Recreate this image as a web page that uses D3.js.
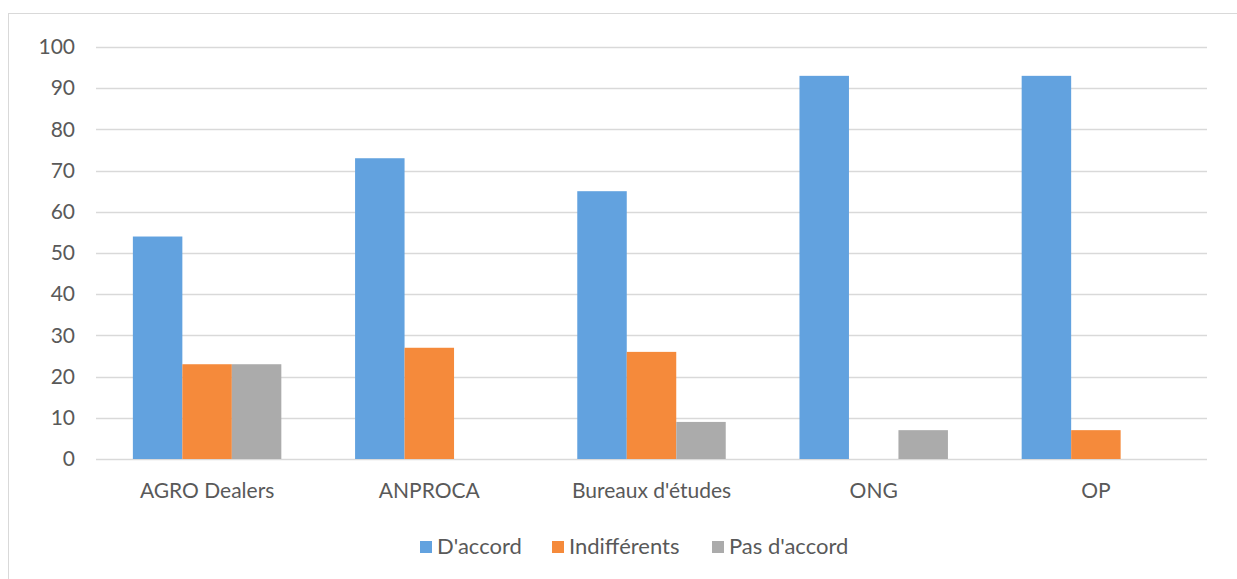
<!DOCTYPE html>
<html>
<head>
<meta charset="utf-8">
<script src="https://cdn.jsdelivr.net/npm/d3@7"></script>
<style>
  html, body { margin: 0; padding: 0; background: #fff; }
  svg text { font-family: Lato, "Open Sans", sans-serif; fill: #595959; }
</style>
</head>
<body>
<svg id="chart" width="1237" height="579"></svg>
<script>
// Survey answers by actor group (percent)
const categories = ["AGRO Dealers", "ANPROCA", "Bureaux d'études", "ONG", "OP"];
const seriesNames = ["D'accord", "Indifférents", "Pas d'accord"];
const dAccord      = [54, 73, 65, 93, 93];
const indifferents = [23, 27, 26, 0, 7];
const pasDAccord   = [23, 0, 9, 7, 0];
const yTicks = [0, 10, 20, 30, 40, 50, 60, 70, 80, 90, 100];
const colors = ["#62A2DF", "#F58A3B", "#ABABAB"];

const seriesValues = [dAccord, indifferents, pasDAccord];

const svg = d3.select("#chart");

// outer frame
svg.append("rect")
  .attr("x", 8.5).attr("y", 13.5)
  .attr("width", 1240).attr("height", 580)
  .attr("fill", "none").attr("stroke", "#D9D9D9").attr("stroke-width", 1);

const plot = { left: 96, right: 1207, top: 47, bottom: 459 };

const x0 = d3.scaleBand()
  .domain(categories)
  .range([plot.left, plot.right])
  .paddingInner(0).paddingOuter(0);

const x1 = d3.scaleBand()
  .domain(seriesNames)
  .range([0, x0.bandwidth()])
  .paddingInner(0)
  .paddingOuter(0.745);

const y = d3.scaleLinear().domain([0, 100]).range([plot.bottom, plot.top]);

// horizontal gridlines
svg.append("g")
  .selectAll("line")
  .data(yTicks)
  .join("line")
  .attr("x1", plot.left).attr("x2", plot.right)
  .attr("y1", d => Math.round(y(d)) + 0.5).attr("y2", d => Math.round(y(d)) + 0.5)
  .attr("stroke", "#D9D9D9").attr("stroke-width", 1.5);

// y axis labels
const yAxis = d3.axisLeft(y).tickValues(yTicks).tickSize(0).tickPadding(21);
svg.append("g")
  .attr("transform", `translate(${plot.left},0)`)
  .call(yAxis)
  .call(g => g.select(".domain").remove())
  .call(g => g.selectAll("text")
    .style("font-family", "Lato, 'Open Sans', sans-serif")
    .attr("font-size", 21).attr("fill", "#595959"));

// bars
const groups = svg.append("g")
  .selectAll("g")
  .data(categories)
  .join("g")
  .attr("transform", d => `translate(${x0(d)},0)`);

groups.selectAll("rect")
  .data((c, i) => seriesNames.map((s, k) => ({ s, k, v: seriesValues[k][i] })))
  .join("rect")
  .attr("x", d => x1(d.s))
  .attr("width", x1.bandwidth())
  .attr("y", d => y(d.v))
  .attr("height", d => y(0) - y(d.v))
  .attr("fill", d => colors[d.k]);

// category labels
const xAxis = d3.axisBottom(x0).tickSize(0).tickPadding(24);
svg.append("g")
  .attr("transform", `translate(0,${plot.bottom})`)
  .call(xAxis)
  .call(g => g.select(".domain").remove())
  .call(g => g.selectAll("text")
    .style("font-family", "Lato, 'Open Sans', sans-serif")
    .attr("font-size", 21).attr("fill", "#595959"));

// legend
const legendX = [420, 552, 712];
const legend = svg.append("g")
  .selectAll("g")
  .data(seriesNames)
  .join("g")
  .attr("transform", (d, i) => `translate(${legendX[i]},541)`);

legend.append("rect")
  .attr("width", 12).attr("height", 12)
  .attr("fill", (d, i) => colors[i]);

legend.append("text")
  .attr("x", 17).attr("y", 13)
  .attr("font-size", 22)
  .text(d => d);
</script>
</body>
</html>
